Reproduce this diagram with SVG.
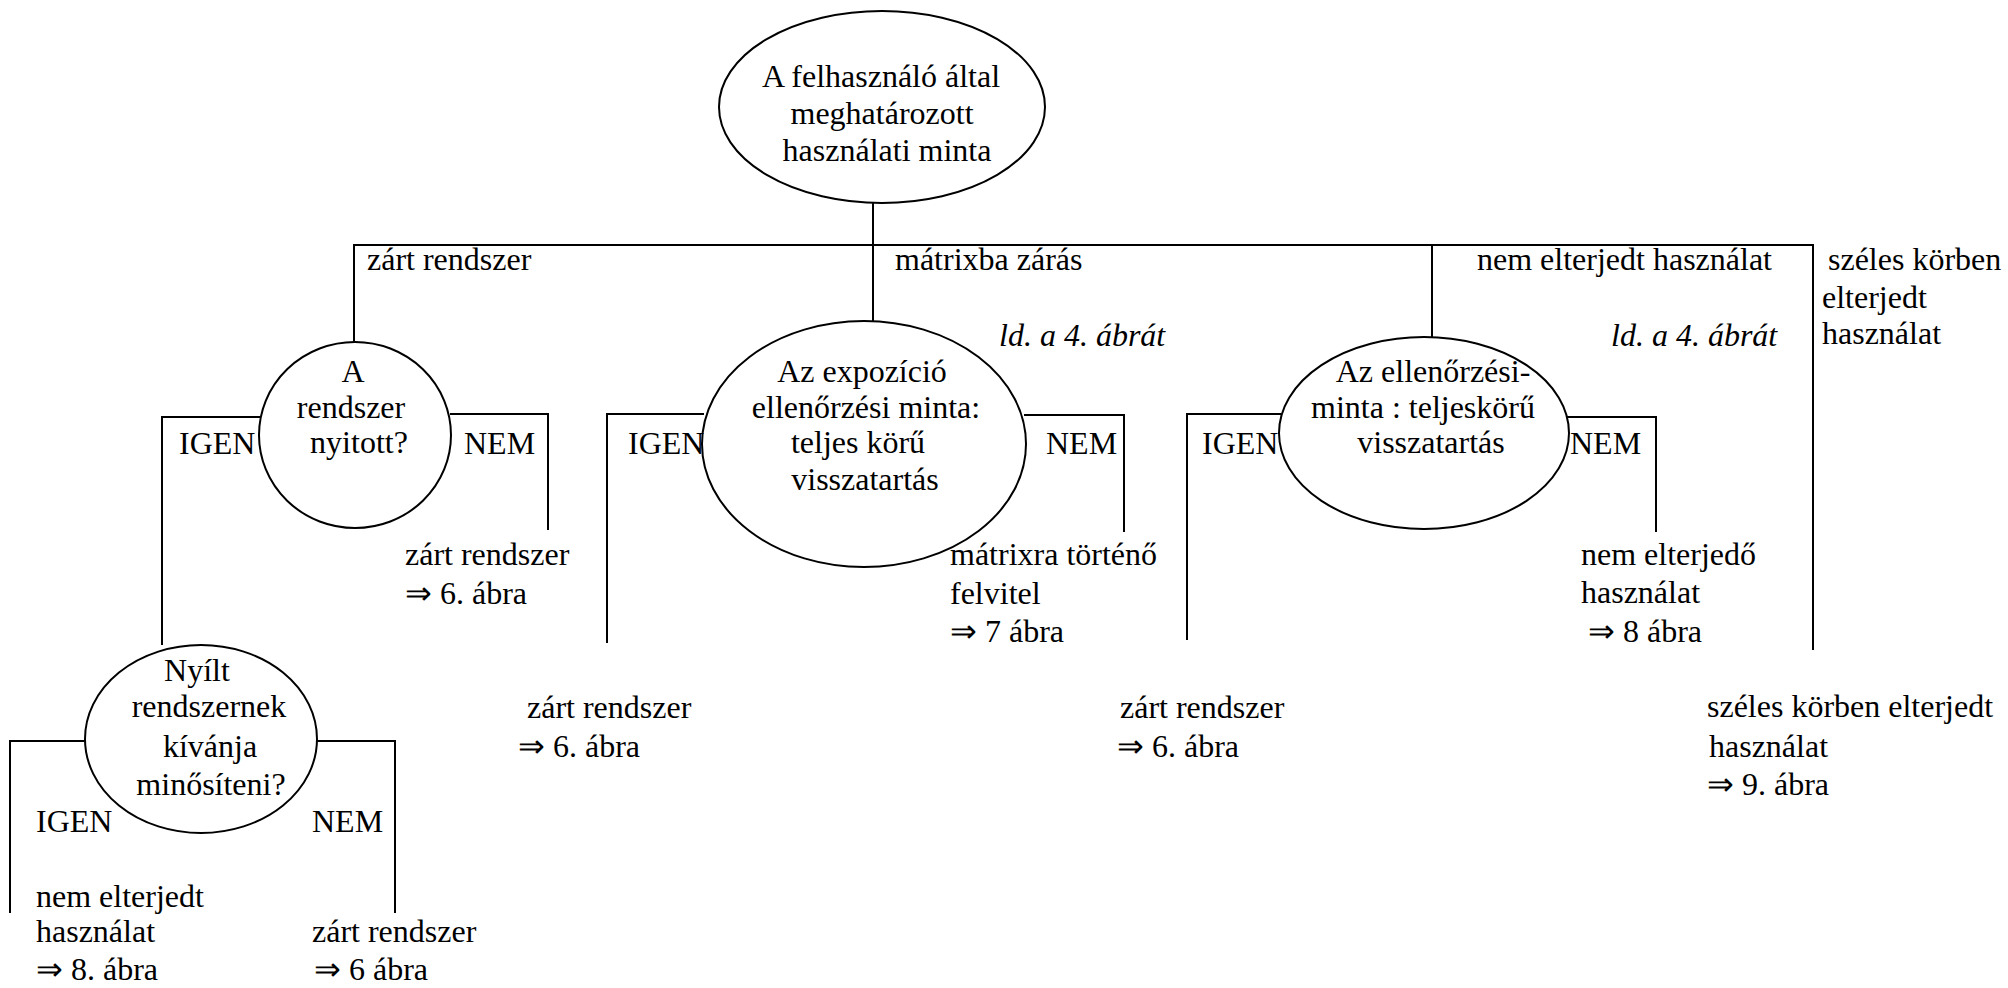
<svg xmlns="http://www.w3.org/2000/svg" width="2008" height="988" viewBox="0 0 2008 988">
<style>
text{font-family:"Liberation Serif","Times New Roman",serif;font-size:32px;fill:#000}
.c{text-anchor:middle}
.i{font-style:italic}
.n{fill:#fff;stroke:#000;stroke-width:2}
.l{fill:none;stroke:#000;stroke-width:2}
</style>
<rect width="2008" height="988" fill="#fff"/>
<g id="connectors">
<path class="l" d="M873 203V321"/>
<path class="l" d="M354 342V245H1813V650"/>
<path class="l" d="M1432 245V337"/>
<path class="l" d="M260 417H162V645"/>
<path class="l" d="M450 414H548V530"/>
<path class="l" d="M704 414H607V643"/>
<path class="l" d="M1024 415H1124V532"/>
<path class="l" d="M1281 414H1187V640"/>
<path class="l" d="M1566 417H1656V532"/>
<path class="l" d="M86 741H10V913"/>
<path class="l" d="M316 741H395V913"/>
</g>
<g id="n-root">
<ellipse class="n" cx="882" cy="107" rx="163" ry="96"/>
<text class="c" x="881" y="87">A felhasználó által</text>
<text class="c" x="882" y="124">meghatározott</text>
<text class="c" x="887" y="161">használati minta</text>
</g>
<g id="n-open">
<ellipse class="n" cx="355" cy="435" rx="96" ry="93"/>
<text class="c" x="353" y="382">A</text>
<text class="c" x="351" y="418">rendszer</text>
<text class="c" x="359" y="453">nyitott?</text>
</g>
<g id="n-expo">
<ellipse class="n" cx="864" cy="444" rx="162" ry="123"/>
<text class="c" x="862" y="382">Az expozíció</text>
<text class="c" x="866" y="418">ellenőrzési minta:</text>
<text class="c" x="858" y="453">teljes körű</text>
<text class="c" x="865" y="490">visszatartás</text>
</g>
<g id="n-ctrl">
<ellipse class="n" cx="1424" cy="433" rx="145" ry="96"/>
<text class="c" x="1433" y="382">Az ellenőrzési-</text>
<text class="c" x="1423" y="418">minta : teljeskörű</text>
<text class="c" x="1431" y="453">visszatartás</text>
</g>
<g id="n-qual">
<ellipse class="n" cx="201" cy="739" rx="116" ry="94"/>
<text class="c" x="197" y="681">Nyílt</text>
<text class="c" x="209" y="717">rendszernek</text>
<text class="c" x="210" y="757">kívánja</text>
<text class="c" x="211" y="795">minősíteni?</text>
</g>
<g id="labels">
<text x="367" y="270">zárt rendszer</text>
<text x="895" y="270">mátrixba zárás</text>
<text x="1477" y="270">nem elterjedt használat</text>
<text x="1828" y="270">széles körben</text>
<text x="1822" y="308">elterjedt</text>
<text x="1822" y="344">használat</text>
<text class="i" x="999" y="346">ld. a 4. ábrát</text>
<text class="i" x="1611" y="346">ld. a 4. ábrát</text>
<text x="179" y="454">IGEN</text>
<text x="464" y="454">NEM</text>
<text x="405" y="565">zárt rendszer</text>
<text x="405" y="604">⇒ 6. ábra</text>
<text x="628" y="454">IGEN</text>
<text x="1046" y="454">NEM</text>
<text x="950" y="565">mátrixra történő</text>
<text x="950" y="604">felvitel</text>
<text x="950" y="642">⇒ 7 ábra</text>
<text x="527" y="718">zárt rendszer</text>
<text x="518" y="757">⇒ 6. ábra</text>
<text x="1202" y="454">IGEN</text>
<text x="1570" y="454">NEM</text>
<text x="1581" y="565">nem elterjedő</text>
<text x="1581" y="603">használat</text>
<text x="1588" y="642">⇒ 8 ábra</text>
<text x="1120" y="718">zárt rendszer</text>
<text x="1117" y="757">⇒ 6. ábra</text>
<text x="1707" y="717">széles körben elterjedt</text>
<text x="1709" y="757">használat</text>
<text x="1707" y="795">⇒ 9. ábra</text>
<text x="36" y="832">IGEN</text>
<text x="312" y="832">NEM</text>
<text x="36" y="907">nem elterjedt</text>
<text x="36" y="942">használat</text>
<text x="36" y="980">⇒ 8. ábra</text>
<text x="312" y="942">zárt rendszer</text>
<text x="314" y="980">⇒ 6 ábra</text>
</g>
</svg>
